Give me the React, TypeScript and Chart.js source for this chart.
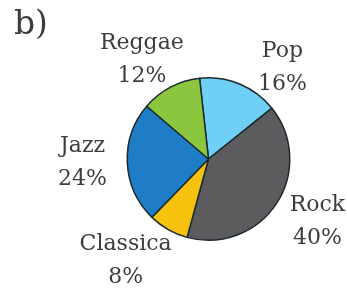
import React, { useEffect, useRef } from "react";
import { Chart, registerables } from "chart.js";

Chart.register(...registerables);

const categories = ["Pop", "Rock", "Classica", "Jazz", "Reggae"];
const values = [16, 40, 8, 24, 12];
const valueLabels = ["16%", "40%", "8%", "24%", "12%"];
const colors = ["#6FCFF4", "#5C5C5E", "#F6C20E", "#1E7DC6", "#8CC63F"];
const panelLabel = "b)";

// label placement (offsets from pie centre, in units of radius)
const labelOffsets: [number, number][] = [
  [0.91, -1.12],
  [1.34, 0.77],
  [-1.02, 1.25],
  [-1.55, 0.05],
  [-0.82, -1.22],
];

const FONT = "'DejaVu Serif', serif";
const TEXT_COLOR = "#3d3d3d";

const labelPlugin = {
  id: "pieLabels",
  afterDraw(chart: any) {
    const ctx = chart.ctx;
    const arc = chart.getDatasetMeta(0).data[0];
    if (!arc) return;
    const cx = arc.x;
    const cy = arc.y;
    const r = arc.outerRadius;
    ctx.save();
    ctx.fillStyle = TEXT_COLOR;
    ctx.textAlign = "center";
    ctx.textBaseline = "middle";
    ctx.font = `22px ${FONT}`;
    categories.forEach((c, i) => {
      const [dx, dy] = labelOffsets[i];
      const x = cx + dx * r;
      const y = cy + dy * r;
      ctx.fillText(c, x, y - 16.5);
      ctx.fillText(valueLabels[i], x, y + 16.5);
    });
    ctx.textAlign = "left";
    ctx.textBaseline = "alphabetic";
    ctx.font = `33px ${FONT}`;
    ctx.fillText(panelLabel, 14, 34);
    ctx.restore();
  },
};

export default function App() {
  const ref = useRef<HTMLCanvasElement>(null);
  useEffect(() => {
    document.body.style.margin = "0";
    const chart = new Chart(ref.current!, {
      type: "pie",
      data: {
        labels: categories,
        datasets: [
          {
            data: values,
            backgroundColor: colors,
            borderColor: "#1c2a2e",
            borderWidth: 1.5,
          },
        ],
      },
      options: {
        animation: false,
        responsive: false,
        rotation: -6.3,
        layout: { padding: { left: 120, right: 50, top: 77, bottom: 48 } },
        plugins: {
          legend: { display: false },
          tooltip: { enabled: false },
        },
      },
      plugins: [labelPlugin],
    });
    return () => chart.destroy();
  }, []);
  return (
    <div style={{ position: "fixed", left: 0, top: 0, width: 347, height: 289, background: "#fff" }}>
      <canvas ref={ref} width={347} height={289} />
    </div>
  );
}
